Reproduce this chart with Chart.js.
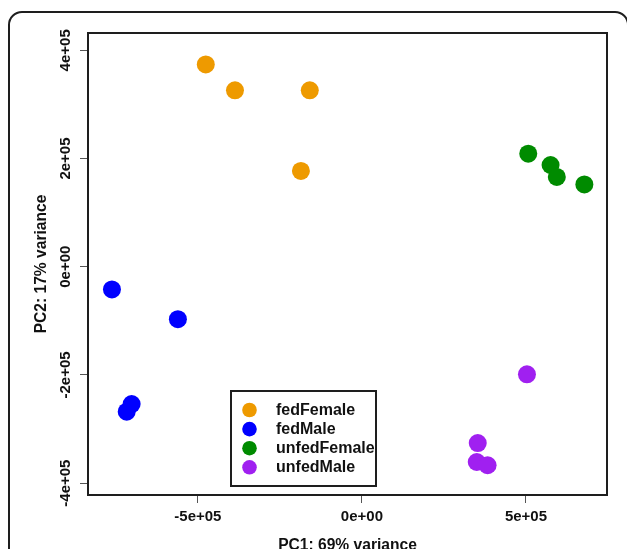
<!DOCTYPE html>
<html>
<head>
<meta charset="utf-8">
<script src="https://cdn.jsdelivr.net/npm/chart.js@4.4.1/dist/chart.umd.min.js"></script>
<style>
  html, body { margin: 0; padding: 0; background: #fff; overflow: hidden; }
  #frame {
    position: absolute; left: 8px; top: 11px; width: 617px; height: 600px;
    border: 2px solid #1e1e1e; border-radius: 14px;
  }
  #plot { position: absolute; left: 0; top: 0; }
</style>
</head>
<body>
<div id="frame"></div>
<canvas id="plot" width="627" height="549"></canvas>
<script>
// ── Data (PC1, PC2) ──
const groups = ['fedFemale', 'fedMale', 'unfedFemale', 'unfedMale'];
const groupColors = ['#EE9A00', '#0000FF', '#008B00', '#A020F0'];

const fedFemalePC1 = [-476000, -387000, -159000, -186000];
const fedFemalePC2 = [374000, 326000, 326000, 177000];

const fedMalePC1 = [-762000, -561000, -702000, -717000];
const fedMalePC2 = [-42000, -97000, -254000, -268000];

const unfedFemalePC1 = [507000, 575000, 594000, 678000];
const unfedFemalePC2 = [209000, 188000, 166000, 152000];

const unfedMalePC1 = [503000, 353000, 350000, 383000];
const unfedMalePC2 = [-199000, -326000, -361000, -367000];

const xTicks = [-500000, 0, 500000];
const xTickLabels = ['-5e+05', '0e+00', '5e+05'];
const yTicks = [-400000, -200000, 0, 200000, 400000];
const yTickLabels = ['-4e+05', '-2e+05', '0e+00', '2e+05', '4e+05'];

const xTitle = 'PC1: 69% variance';
const yTitle = 'PC2: 17% variance';

// ── Helpers ──
const FONT = '"Liberation Sans", Arial, Helvetica, sans-serif';

function pts(xs, ys) {
  return xs.map((x, i) => ({ x, y: ys[i] }));
}

const seriesPC1 = [fedFemalePC1, fedMalePC1, unfedFemalePC1, unfedMalePC1];
const seriesPC2 = [fedFemalePC2, fedMalePC2, unfedFemalePC2, unfedMalePC2];

const datasets = groups.map((g, i) => ({
  label: g,
  data: pts(seriesPC1[i], seriesPC2[i]),
  backgroundColor: groupColors[i],
  borderWidth: 0,
  pointRadius: 9,
  pointHoverRadius: 9,
}));

// ── Plot box + legend ──
const boxPlugin = {
  id: 'box',
  afterDraw(chart) {
    const { ctx, chartArea: a } = chart;
    ctx.save();
    ctx.strokeStyle = '#1e1e1e';
    ctx.lineWidth = 2;
    ctx.strokeRect(a.left, a.top, a.right - a.left, a.bottom - a.top);
    ctx.restore();
  }
};

const legendPlugin = {
  id: 'rlegend',
  afterDraw(chart) {
    const { ctx } = chart;
    const x0 = 231, y0 = 391, w = 145, h = 95;
    ctx.save();
    ctx.fillStyle = '#fff';
    ctx.fillRect(x0, y0, w, h);
    ctx.strokeStyle = '#1e1e1e';
    ctx.lineWidth = 2;
    ctx.strokeRect(x0, y0, w, h);
    ctx.font = 'bold 16px ' + FONT;
    ctx.textBaseline = 'middle';
    ctx.textAlign = 'left';
    chart.data.datasets.forEach((ds, i) => {
      const cy = y0 + 19 + i * 19.1;
      ctx.fillStyle = ds.backgroundColor;
      ctx.beginPath();
      ctx.arc(x0 + 18.5, cy, 7.3, 0, Math.PI * 2);
      ctx.fill();
      ctx.fillStyle = '#111';
      ctx.fillText(ds.label, x0 + 45, cy + 0.5);
    });
    ctx.restore();
  }
};

// ── Chart ──
new Chart(document.getElementById('plot').getContext('2d'), {
  type: 'scatter',
  data: { datasets },
  options: {
    responsive: false,
    animation: false,
    events: [],
    layout: { padding: { left: 0, top: 33, right: 20, bottom: 0 } },
    plugins: { legend: { display: false }, tooltip: { enabled: false } },
    scales: {
      x: {
        type: 'linear',
        min: -835000,
        max: 747000,
        afterBuildTicks: s => { s.ticks = xTicks.map(v => ({ value: v })); },
        afterFit: s => { s.height = 54; },
        grid: { drawOnChartArea: false, drawTicks: true, tickLength: 8, color: '#555', lineWidth: 1 },
        border: { display: false },
        ticks: {
          autoSkip: false,
          maxRotation: 0,
          padding: 5,
          color: '#111',
          font: { family: FONT, size: 15, weight: 'bold' },
          callback: (v, i) => xTickLabels[i],
        },
        title: {
          display: true, text: xTitle, color: '#111',
          font: { family: FONT, size: 15.6, weight: 'bold' },
          padding: { top: 0, bottom: -6 },
        },
      },
      y: {
        type: 'linear',
        min: -422000,
        max: 432000,
        afterBuildTicks: s => { s.ticks = yTicks.map(v => ({ value: v })); },
        afterFit: s => { s.width = 88; },
        grid: { drawOnChartArea: false, drawTicks: true, tickLength: 8, color: '#555', lineWidth: 1 },
        border: { display: false },
        ticks: {
          autoSkip: false,
          minRotation: 90,
          maxRotation: 90,
          crossAlign: 'center',
          padding: -9,
          color: '#111',
          font: { family: FONT, size: 15, weight: 'bold' },
          callback: (v, i) => yTickLabels[i],
        },
        title: {
          display: true, text: yTitle, color: '#111',
          font: { family: FONT, size: 15.6, weight: 'bold' },
          padding: { top: 32, bottom: 0 },
        },
      },
    },
  },
  plugins: [boxPlugin, legendPlugin],
});
</script>
</body>
</html>
